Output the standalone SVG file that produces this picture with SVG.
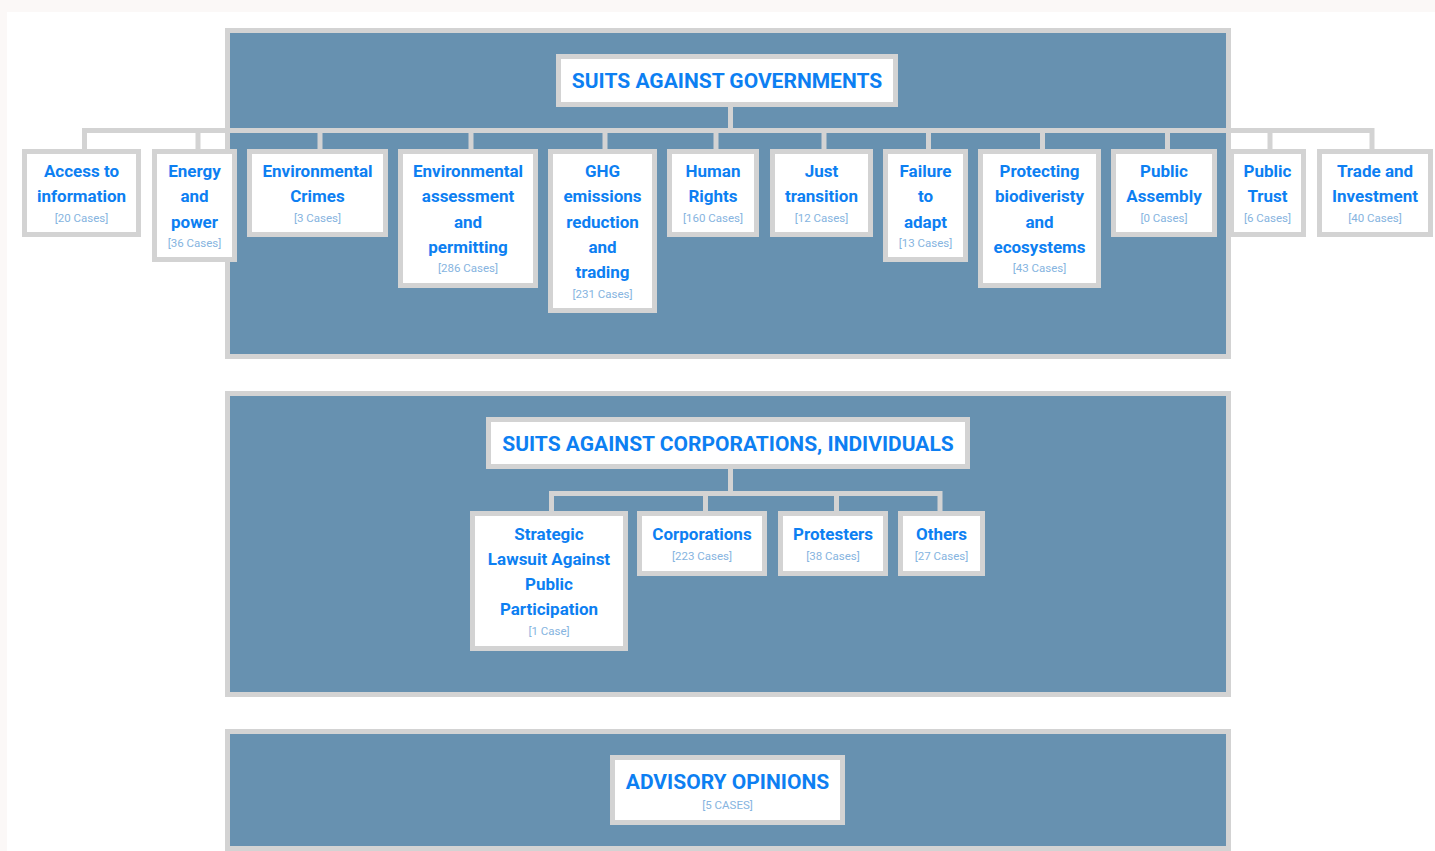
<svg xmlns="http://www.w3.org/2000/svg" width="1435" height="851" viewBox="0 0 1435 851">
<style>
.panel{fill:#6791b0;stroke:#d3d3d3;stroke-width:5}
.box{fill:#ffffff;stroke:#d3d3d3;stroke-width:5}
.conn{fill:none;stroke:#d3d3d3;stroke-width:5}
.t{font-family:Roboto,"Liberation Sans",sans-serif;font-weight:700;font-size:17px;fill:#0d7ff2;text-anchor:middle}
.h{font-family:Roboto,"Liberation Sans",sans-serif;font-weight:700;font-size:21px;fill:#0d7ff2;text-anchor:middle}
.c{font-family:Roboto,"Liberation Sans",sans-serif;font-weight:400;font-size:11.5px;fill:#86b4e0;text-anchor:middle}
</style>
<rect x="0" y="0" width="1435" height="851" fill="#fbf8f7"/>
<rect x="7" y="12" width="1428" height="839" fill="#ffffff"/>
<g id="panels">
<rect id="panel-gov" class="panel" x="227.5" y="30.5" width="1001" height="326"/>
<rect id="panel-corp" class="panel" x="227.5" y="393.5" width="1001" height="301"/>
<rect id="panel-adv" class="panel" x="227.5" y="731.5" width="1001" height="117"/>
</g>
<g id="connectors">
<path class="conn" d="M730.5 107 V130.5"/>
<path class="conn" d="M84.5 149 V130.5 H1372 V149"/>
<path class="conn" d="M198 130.5 V149 M320 130.5 V149 M471 130.5 V149 M605 130.5 V149 M716 130.5 V149 M824 130.5 V149 M928.5 130.5 V149 M1042.5 130.5 V149 M1167.5 130.5 V149 M1270 130.5 V149"/>
<path class="conn" d="M730.5 469 V493.5"/>
<path class="conn" d="M551.5 511 V493.5 H940 V511"/>
<path class="conn" d="M705.5 493.5 V511 M836.5 493.5 V511"/>
</g>
<g id="title-gov">
<rect class="box" x="558.5" y="56.5" width="337" height="48"/>
<text class="h" x="727" y="88">SUITS AGAINST GOVERNMENTS</text>
</g>
<g id="node-access">
<rect class="box" x="24.5" y="151.5" width="114" height="83"/>
<text class="t" x="81.5" y="177">Access to</text>
<text class="t" x="81.5" y="202.3">information</text>
<text class="c" x="81.5" y="221.5">[20 Cases]</text>
</g>
<g id="node-energy">
<rect class="box" x="154.5" y="151.5" width="80" height="108"/>
<text class="t" x="194.5" y="177">Energy</text>
<text class="t" x="194.5" y="202.3">and</text>
<text class="t" x="194.5" y="227.6">power</text>
<text class="c" x="194.5" y="246.8">[36 Cases]</text>
</g>
<g id="node-envcrimes">
<rect class="box" x="249.5" y="151.5" width="136" height="83"/>
<text class="t" x="317.5" y="177">Environmental</text>
<text class="t" x="317.5" y="202.3">Crimes</text>
<text class="c" x="317.5" y="221.5">[3 Cases]</text>
</g>
<g id="node-envassess">
<rect class="box" x="400.5" y="151.5" width="135" height="134"/>
<text class="t" x="468" y="177">Environmental</text>
<text class="t" x="468" y="202.3">assessment</text>
<text class="t" x="468" y="227.6">and</text>
<text class="t" x="468" y="252.9">permitting</text>
<text class="c" x="468" y="272.2">[286 Cases]</text>
</g>
<g id="node-ghg">
<rect class="box" x="550.5" y="151.5" width="104" height="159"/>
<text class="t" x="602.5" y="177">GHG</text>
<text class="t" x="602.5" y="202.3">emissions</text>
<text class="t" x="602.5" y="227.6">reduction</text>
<text class="t" x="602.5" y="252.9">and</text>
<text class="t" x="602.5" y="278.2">trading</text>
<text class="c" x="602.5" y="297.5">[231 Cases]</text>
</g>
<g id="node-human">
<rect class="box" x="669.5" y="151.5" width="87" height="83"/>
<text class="t" x="713" y="177">Human</text>
<text class="t" x="713" y="202.3">Rights</text>
<text class="c" x="713" y="221.5">[160 Cases]</text>
</g>
<g id="node-just">
<rect class="box" x="772.5" y="151.5" width="98" height="83"/>
<text class="t" x="821.5" y="177">Just</text>
<text class="t" x="821.5" y="202.3">transition</text>
<text class="c" x="821.5" y="221.5">[12 Cases]</text>
</g>
<g id="node-failure">
<rect class="box" x="885.5" y="151.5" width="80" height="108"/>
<text class="t" x="925.5" y="177">Failure</text>
<text class="t" x="925.5" y="202.3">to</text>
<text class="t" x="925.5" y="227.6">adapt</text>
<text class="c" x="925.5" y="246.8">[13 Cases]</text>
</g>
<g id="node-biodiversity">
<rect class="box" x="980.5" y="151.5" width="118" height="134"/>
<text class="t" x="1039.5" y="177">Protecting</text>
<text class="t" x="1039.5" y="202.3">biodiveristy</text>
<text class="t" x="1039.5" y="227.6">and</text>
<text class="t" x="1039.5" y="252.9">ecosystems</text>
<text class="c" x="1039.5" y="272.2">[43 Cases]</text>
</g>
<g id="node-assembly">
<rect class="box" x="1113.5" y="151.5" width="101" height="83"/>
<text class="t" x="1164" y="177">Public</text>
<text class="t" x="1164" y="202.3">Assembly</text>
<text class="c" x="1164" y="221.5">[0 Cases]</text>
</g>
<g id="node-trust">
<rect class="box" x="1231.5" y="151.5" width="72" height="83"/>
<text class="t" x="1267.5" y="177">Public</text>
<text class="t" x="1267.5" y="202.3">Trust</text>
<text class="c" x="1267.5" y="221.5">[6 Cases]</text>
</g>
<g id="node-trade">
<rect class="box" x="1319.5" y="151.5" width="111" height="83"/>
<text class="t" x="1375" y="177">Trade and</text>
<text class="t" x="1375" y="202.3">Investment</text>
<text class="c" x="1375" y="221.5">[40 Cases]</text>
</g>
<g id="title-corp">
<rect class="box" x="488.5" y="419.5" width="479" height="47"/>
<text class="h" x="728" y="451">SUITS AGAINST CORPORATIONS, INDIVIDUALS</text>
</g>
<g id="node-slapp">
<rect class="box" x="472.5" y="513.5" width="153" height="135"/>
<text class="t" x="549" y="540">Strategic</text>
<text class="t" x="549" y="565">Lawsuit Against</text>
<text class="t" x="549" y="590">Public</text>
<text class="t" x="549" y="615">Participation</text>
<text class="c" x="549" y="634.5">[1 Case]</text>
</g>
<g id="node-corporations">
<rect class="box" x="639.5" y="513.5" width="125" height="60"/>
<text class="t" x="702" y="540">Corporations</text>
<text class="c" x="702" y="559.5">[223 Cases]</text>
</g>
<g id="node-protesters">
<rect class="box" x="780.5" y="513.5" width="105" height="60"/>
<text class="t" x="833" y="540">Protesters</text>
<text class="c" x="833" y="559.5">[38 Cases]</text>
</g>
<g id="node-others">
<rect class="box" x="900.5" y="513.5" width="82" height="60"/>
<text class="t" x="941.5" y="540">Others</text>
<text class="c" x="941.5" y="559.5">[27 Cases]</text>
</g>
<g id="node-advisory">
<rect class="box" x="612.5" y="757.5" width="230" height="65"/>
<text class="h" x="727.5" y="789">ADVISORY OPINIONS</text>
<text class="c" x="727.5" y="809">[5 CASES]</text>
</g>
</svg>
